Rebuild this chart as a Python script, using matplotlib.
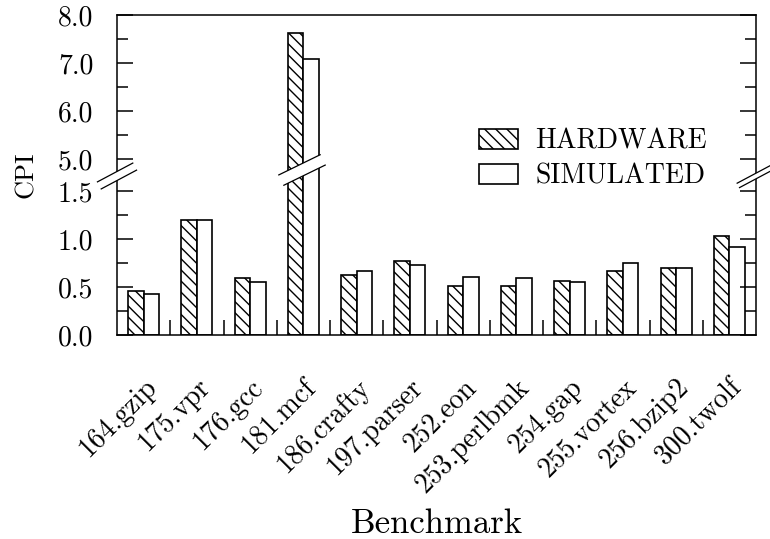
import numpy as np
import matplotlib as mpl
mpl.use("Agg")
import matplotlib.pyplot as plt
import matplotlib.transforms as mtransforms
from matplotlib.patches import Polygon

# MPL settings, Computer Modern look
mpl.rcParams['font.family'] = 'cmr10'
mpl.rcParams['axes.formatter.use_mathtext'] = True
mpl.rcParams['hatch.linewidth'] = 1.0

# Data
benchmarks = ["164.gzip", "175.vpr", "176.gcc", "181.mcf", "186.crafty",
              "197.parser", "252.eon", "253.perlbmk", "254.gap",
              "255.vortex", "256.bzip2", "300.twolf"]
hardware = [0.46, 1.20, 0.59, 7.62, 0.63, 0.77, 0.51, 0.51, 0.56, 0.67, 0.70, 1.03]
simulated = [0.43, 1.20, 0.55, 7.08, 0.67, 0.73, 0.60, 0.59, 0.55, 0.75, 0.70, 0.92]

yticks = [0.0, 0.5, 1.0, 1.5, 5.0, 6.0, 7.0, 8.0]
yticks_minor = [0.25, 0.75, 1.25, 5.5, 6.5, 7.5]

# broken y axis: 0..1.5 at 2 units per 1.0, 5..8 at 1 unit per 1.0
low_top, high_bottom, gap = 1.5, 5.0, 2.0 / 3.0

def forward(v):
  v = np.asarray(v, dtype=float)
  return np.where(v <= low_top, 2 * v,
                  np.where(v < high_bottom,
                           2 * low_top + (v - low_top) * gap / (high_bottom - low_top),
                           2 * low_top + gap + (v - high_bottom)))

def inverse(u):
  u = np.asarray(u, dtype=float)
  return np.where(u <= 2 * low_top, u / 2,
                  np.where(u < 2 * low_top + gap,
                           low_top + (u - 2 * low_top) * (high_bottom - low_top) / gap,
                           high_bottom + (u - 2 * low_top - gap)))

fig = plt.figure(figsize=(7.7, 5.39), dpi=100)
ax = fig.add_axes([117 / 770, 1 - 335 / 539, 639 / 770, 320 / 539])
ax.set_yscale('function', functions=(forward, inverse))

x = np.arange(len(benchmarks)) + 0.5
width = 0.29
ax.bar(x - width / 2, hardware, width, color="white", edgecolor="black",
       hatch="\\\\\\", linewidth=1.2, label="HARDWARE")
ax.bar(x + width / 2, simulated, width, color="white", edgecolor="black",
       linewidth=1.2, label="SIMULATED")

ax.set_xlim(0, len(benchmarks))
ax.set_ylim(0, 8)

ax.set_yticks(yticks)
ax.set_yticklabels(["%.1f" % t for t in yticks])
ax.set_yticks(yticks_minor, minor=True)
ax.tick_params(axis='y', which='both', direction='in', left=True, right=True,
               labelsize=20, pad=17, width=1.1)
ax.tick_params(axis='y', which='major', length=11.5)
ax.tick_params(axis='y', which='minor', length=8)

ax.set_xticks(np.arange(1, len(benchmarks)))
ax.set_xticklabels([])
ax.set_xticks(x, benchmarks, minor=True)
ax.tick_params(axis='x', which='major', direction='in', length=11, width=1.1,
               bottom=True, top=False)
ax.tick_params(axis='x', which='minor', length=0, labelsize=20, pad=28)
plt.setp(ax.get_xticklabels(minor=True), rotation=45, ha='right',
         rotation_mode='anchor')

for s in ax.spines.values():
  s.set_linewidth(1.1)

ax.set_ylabel("CPI", fontsize=19, labelpad=14)
ax.set_xlabel("Benchmark", fontsize=25, labelpad=8)

ax.legend(loc='upper left', bbox_to_anchor=(0.566, 0.645), frameon=False,
          fontsize=20, handlelength=1.42, handleheight=0.7,
          handletextpad=0.62, labelspacing=0.3, borderpad=0, borderaxespad=0)

# break marks (anchor in axes fraction, sizes in pixels)
def break_mark(ax_x, ax_y, half_len, sep, angle):
  trans = fig.dpi_scale_trans + mtransforms.ScaledTranslation(ax_x, ax_y, ax.transAxes)
  a = np.deg2rad(angle)
  d = np.array([np.cos(a), np.sin(a)]) * half_len / 100
  n = np.array([np.sin(a), -np.cos(a)]) * sep / 200
  p1, p2 = -d + n, d + n
  q1, q2 = -d - n, d - n
  ax.add_patch(Polygon([p1, p2, q2, q1], closed=True, facecolor="white",
                       edgecolor="none", transform=trans, clip_on=False, zorder=5))
  for a1, a2 in ((p1, p2), (q1, q2)):
    ax.plot([a1[0], a2[0]], [a1[1], a2[1]], color="black", linewidth=0.9,
            transform=trans, clip_on=False, zorder=6)

break_mark(0.0, (335 - 176) / 320, 20, 8, 28)
break_mark((302 - 117) / 639, (335 - 170) / 320, 23, 11.5, 26)
break_mark(1.0, (335 - 176) / 320, 20, 5, 28)

fig.savefig("out.png", dpi=100)
